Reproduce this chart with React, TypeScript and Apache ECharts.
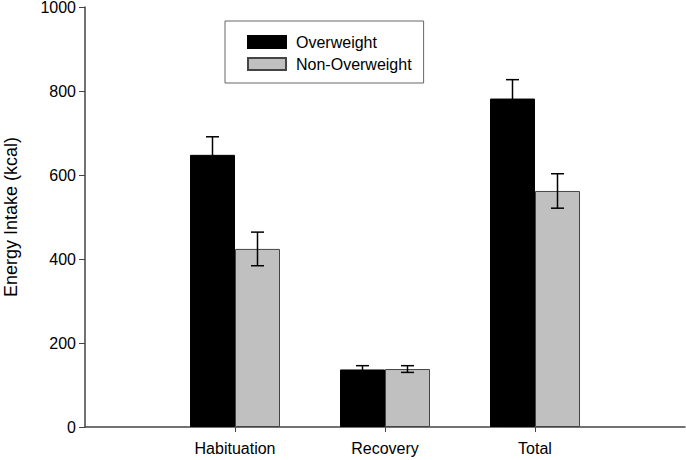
import React, { useEffect, useRef } from "react";
import * as echarts from "echarts";

const categories = ["", "Habituation", "Recovery", "Total", ""];
const seriesNames = ["Overweight", "Non-Overweight"];
const overweight = [null, 648, 137, 782, null];
const overweightErr = [null, 43, 9, 45, null];
const nonOverweight = [null, 424, 138, 562, null];
const nonOverweightErr = [null, 40, 8, 41, null];
const yTicks = [0, 200, 400, 600, 800, 1000];

const FONT = "'Liberation Sans', Arial, Helvetica, sans-serif";
const BAR_W = 45;

function errData(vals: (number | null)[], errs: (number | null)[]) {
  const out: any[] = [];
  vals.forEach((v, i) => {
    if (v != null && errs[i] != null) out.push([i, v - (errs[i] as number), v + (errs[i] as number)]);
  });
  return out;
}

function makeErr(offset: number) {
  return (params: any, api: any) => {
    const x = api.value(0);
    const lo = api.coord([x, api.value(1)]);
    const hi = api.coord([x, api.value(2)]);
    const cx = lo[0] + offset;
    const cap = 6.5;
    const style = { stroke: "#000", lineWidth: 1.5 };
    return {
      type: "group",
      children: [
        { type: "line", shape: { x1: cx, y1: lo[1], x2: cx, y2: hi[1] }, style },
        { type: "line", shape: { x1: cx - cap, y1: hi[1], x2: cx + cap, y2: hi[1] }, style },
        { type: "line", shape: { x1: cx - cap, y1: lo[1], x2: cx + cap, y2: lo[1] }, style },
      ],
    };
  };
}

export default function App() {
  const ref = useRef<HTMLDivElement>(null);
  useEffect(() => {
    if (!ref.current) return;
    const chart = echarts.init(ref.current, undefined, { renderer: "svg" });
    chart.setOption({
      animation: false,
      backgroundColor: "#fff",
      textStyle: { fontFamily: FONT },
      grid: { left: 85, right: 1, top: 7, bottom: 33, containLabel: false, outerBoundsMode: "none" },
      legend: {
        data: seriesNames,
        orient: "vertical",
        left: 225,
        top: 21,
        padding: [13, 12, 11, 22],
        itemGap: 6,
        itemWidth: 38,
        itemHeight: 12,
        borderColor: "#666",
        borderWidth: 1,
        icon: "rect",
        textStyle: { fontSize: 16, color: "#000", fontFamily: FONT, padding: [0, 0, 0, 5] },
      },
      xAxis: {
        type: "category",
        data: categories,
        boundaryGap: false,
        axisLine: { lineStyle: { color: "#444", width: 1.5 } },
        axisTick: {
          length: 5,
          lineStyle: { color: "#444" },
          interval: (i: number) => i > 0 && i < categories.length - 1,
        },
        axisLabel: { fontSize: 16, color: "#000", margin: 13, fontFamily: FONT, interval: 0 },
        splitLine: { show: false },
      },
      yAxis: {
        type: "value",
        min: yTicks[0],
        max: yTicks[yTicks.length - 1],
        interval: 200,
        name: "Energy Intake (kcal)",
        nameLocation: "middle",
        nameGap: 65,
        nameTextStyle: { fontSize: 18, color: "#000", fontFamily: FONT },
        axisLine: { show: true, lineStyle: { color: "#444", width: 1.5 } },
        axisTick: { show: true, length: 6, lineStyle: { color: "#444" } },
        axisLabel: {
          fontSize: 16,
          color: "#000",
          margin: 9,
          fontFamily: FONT,
          formatter: (v: number) => String(v),
          verticalAlign: "middle",
          lineHeight: 14,
        },
        splitLine: { show: false },
      },
      series: [
        {
          name: seriesNames[0],
          type: "bar",
          data: overweight,
          barWidth: BAR_W,
          barGap: "0%",
          itemStyle: { color: "#000", borderColor: "#000", borderWidth: 1 },
        },
        {
          name: seriesNames[1],
          type: "bar",
          data: nonOverweight,
          barWidth: BAR_W,
          barGap: "0%",
          itemStyle: { color: "#c0c0c0", borderColor: "#444", borderWidth: 1 },
        },
        {
          type: "custom",
          renderItem: makeErr(-BAR_W / 2),
          data: errData(overweight, overweightErr),
          z: 5,
          silent: true,
        },
        {
          type: "custom",
          renderItem: makeErr(BAR_W / 2),
          data: errData(nonOverweight, nonOverweightErr),
          z: 5,
          silent: true,
        },
      ],
    });
    return () => chart.dispose();
  }, []);
  return <div ref={ref} style={{ width: 686, height: 460, position: "absolute", left: 0, top: 0 }} />;
}
